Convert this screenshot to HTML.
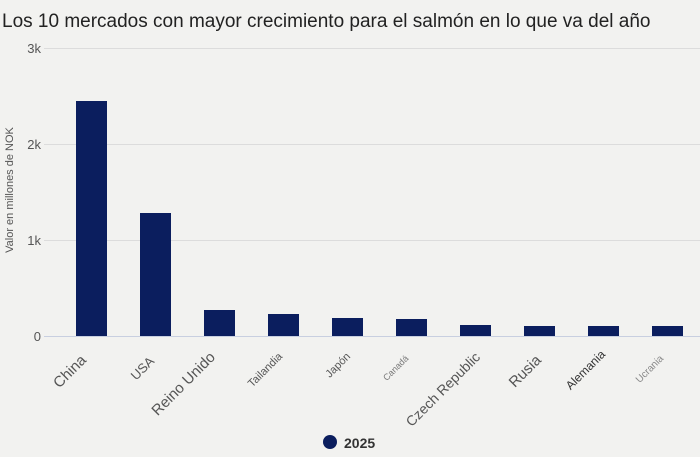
<!DOCTYPE html>
<html><head><meta charset="utf-8"><style>
body{margin:0;background:#f2f2f0;}
svg{display:block;font-family:"Liberation Sans",sans-serif;}
</style></head><body>
<svg width="700" height="457" viewBox="0 0 700 457">
<rect width="700" height="457" fill="#f2f2f0"/>
<text x="2" y="27" font-size="19" fill="#222">Los 10 mercados con mayor crecimiento para el salmón en lo que va del año</text>
<g stroke="#dcdcdc" stroke-width="1">
<line x1="44" y1="48.5" x2="700" y2="48.5"/>
<line x1="44" y1="144.5" x2="700" y2="144.5"/>
<line x1="44" y1="240.5" x2="700" y2="240.5"/>
</g>
<line x1="44" y1="336.5" x2="700" y2="336.5" stroke="#c8cfe0" stroke-width="1"/>
<g font-size="13" fill="#555" text-anchor="end">
<text x="41" y="53">3k</text>
<text x="41" y="149">2k</text>
<text x="41" y="245">1k</text>
<text x="41" y="341">0</text>
</g>
<text transform="translate(13,190) rotate(-90)" font-size="11" fill="#555" text-anchor="middle">Valor en millones de NOK</text>
<g fill="#0b1e5e">
<rect x="76" y="101" width="31" height="235"/>
<rect x="140" y="213" width="31" height="123"/>
<rect x="204" y="310" width="31" height="26"/>
<rect x="268" y="314" width="31" height="22"/>
<rect x="332" y="318" width="31" height="18"/>
<rect x="396" y="319" width="31" height="17"/>
<rect x="460" y="325" width="31" height="11"/>
<rect x="524" y="326" width="31" height="10"/>
<rect x="588" y="326" width="31" height="10"/>
<rect x="652" y="326" width="31" height="10"/>
</g>
<g fill="#555" text-anchor="end">
<text transform="translate(87,361) rotate(-45)" font-size="15">China</text>
<text transform="translate(155,362) rotate(-45)" font-size="13">USA</text>
<text transform="translate(216,358) rotate(-45)" font-size="15">Reino Unido</text>
<text transform="translate(283,357) rotate(-45)" font-size="11">Tailandia</text>
<text transform="translate(351,357) rotate(-45)" font-size="11">Japón</text>
<text transform="translate(409,359) rotate(-45)" font-size="9" fill="#777">Canadá</text>
<text transform="translate(481,358) rotate(-45)" font-size="14">Czech Republic</text>
<text transform="translate(542,361) rotate(-45)" font-size="15">Rusia</text>
<text transform="translate(606,355) rotate(-45)" font-size="12" fill="#333">Alemania</text>
<text transform="translate(664,359) rotate(-45)" font-size="10" fill="#888">Ucrania</text>
</g>
<circle cx="330" cy="442" r="7" fill="#0b1e5e"/>
<text x="344" y="448" font-size="14" font-weight="bold" fill="#333">2025</text>
</svg>
</body></html>
